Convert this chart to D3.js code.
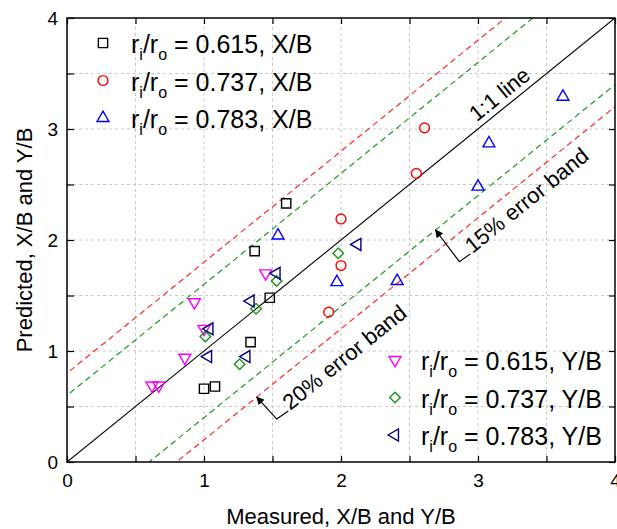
<!DOCTYPE html>
<html>
<head>
<meta charset="utf-8">
<style>
  body { margin:0; background:#fff; }
  svg text { font-family: "Liberation Sans", Arial, sans-serif; fill:#000; }
  .grid line { stroke:#c8c8c8; stroke-width:1; stroke-dasharray:3,3; }
</style>
</head>
<body>
<svg id="chart" width="617" height="529"></svg>
<script src="https://d3js.org/d3.v7.min.js"></script>
<script>
// values (measured, predicted)
var sq615X_meas = [1.60, 1.37, 1.48, 1.34, 1.00, 1.08];
var sq615X_pred = [2.33, 1.90, 1.48, 1.08, 0.66, 0.68];

var ci737X_meas = [2.00, 2.61, 2.55, 2.00, 1.91];
var ci737X_pred = [2.19, 3.01, 2.60, 1.77, 1.35];

var tr783X_meas = [1.54, 3.62, 3.08, 3.00, 1.97, 2.41];
var tr783X_pred = [2.04, 3.29, 2.87, 2.48, 1.62, 1.63];

var dn615Y_meas = [1.45, 0.93, 1.00, 0.86, 0.62, 0.67];
var dn615Y_pred = [1.70, 1.44, 1.20, 0.94, 0.69, 0.69];

var di737Y_meas = [1.98, 1.53, 1.38, 1.01, 1.26];
var di737Y_pred = [1.88, 1.63, 1.38, 1.13, 0.88];

var lt783Y_meas = [2.12, 1.53, 1.34, 1.04, 1.03, 1.31];
var lt783Y_pred = [1.96, 1.70, 1.45, 1.20, 0.95, 0.95];

var ratios = ["0.615", "0.737", "0.783", "0.615", "0.737", "0.783"];
var dirs   = ["X/B", "X/B", "X/B", "Y/B", "Y/B", "Y/B"];

var allTicks = [0, 0.5, 1, 1.5, 2, 2.5, 3, 3.5, 4];

// error bands: offsets of parallel lines (15% and 20% of the 4.0 range)
var band15 = 0.6, band20 = 0.8;

var width = 617, height = 529;
var x = d3.scaleLinear().domain([0, 4]).range([67, 615]);
var y = d3.scaleLinear().domain([0, 4]).range([462, 18]);

var svg = d3.select('#chart');

var series = [
  {meas: sq615X_meas, pred: sq615X_pred, color: "#000000", sym: d3.symbolSquare, size: 86, rot: 0},
  {meas: ci737X_meas, pred: ci737X_pred, color: "#ff0000", sym: d3.symbolCircle, size: 76, rot: 0},
  {meas: tr783X_meas, pred: tr783X_pred, color: "#0000ff", sym: d3.symbolTriangle, size: 62, rot: 0},
  {meas: dn615Y_meas, pred: dn615Y_pred, color: "#ff00ff", sym: d3.symbolTriangle, size: 62, rot: 180},
  {meas: di737Y_meas, pred: di737Y_pred, color: "#1a961a", sym: d3.symbolSquare, size: 56, rot: 45},
  {meas: lt783Y_meas, pred: lt783Y_pred, color: "#000080", sym: d3.symbolTriangle, size: 62, rot: -90}
];

// grid
var grid = svg.append('g').attr('class', 'grid');
grid.selectAll('.gx').data(allTicks.slice(1, -1)).enter().append('line')
  .attr('x1', function(d){ return x(d); }).attr('x2', function(d){ return x(d); })
  .attr('y1', y(0)).attr('y2', y(4));
grid.selectAll('.gy').data(allTicks.slice(1, -1)).enter().append('line')
  .attr('y1', function(d){ return y(d); }).attr('y2', function(d){ return y(d); })
  .attr('x1', x(0)).attr('x2', x(4));

// clip for lines
svg.append('clipPath').attr('id', 'plotclip').append('rect')
  .attr('x', x(0)).attr('y', y(4)).attr('width', x(4) - x(0)).attr('height', y(0) - y(4));

var lines = svg.append('g').attr('clip-path', 'url(#plotclip)');
var bandLines = [
  {off: band20, color: "#ff2a2a"}, {off: -band20, color: "#ff2a2a"},
  {off: band15, color: "#1f9a1f"}, {off: -band15, color: "#1f9a1f"}
];
lines.selectAll('.band').data(bandLines).enter().append('line')
  .attr('x1', x(-1)).attr('x2', x(5))
  .attr('y1', function(d){ return y(-1 + d.off); })
  .attr('y2', function(d){ return y(5 + d.off); })
  .attr('stroke', function(d){ return d.color; })
  .attr('stroke-width', 1.2)
  .attr('stroke-dasharray', '6,4');
lines.append('line')
  .attr('x1', x(0)).attr('y1', y(0)).attr('x2', x(4)).attr('y2', y(4))
  .attr('stroke', '#000').attr('stroke-width', 1.1);

// axes
function styleAxis(g) {
  g.select('.domain').remove();
  g.selectAll('.tick line').attr('stroke', '#000').attr('stroke-width', 1.2);
  g.selectAll('text').attr('font-size', 19).attr('font-family', '"Liberation Sans", Arial, sans-serif');
}
var fmt = function(d){ return d % 1 === 0 ? d3.format('d')(d) : ''; };

svg.append('g').attr('transform', 'translate(0,' + y(0) + ')')
  .call(d3.axisBottom(x).tickValues(allTicks).tickSize(-6).tickPadding(12).tickFormat(fmt))
  .call(styleAxis);
svg.append('g').attr('transform', 'translate(' + x(0) + ',0)')
  .call(d3.axisLeft(y).tickValues(allTicks).tickSize(-7).tickPadding(9).tickFormat(fmt))
  .call(styleAxis);
svg.append('g').attr('transform', 'translate(0,' + y(4) + ')')
  .call(d3.axisTop(x).tickValues(allTicks).tickSize(-6).tickFormat(''))
  .call(styleAxis);
svg.append('g').attr('transform', 'translate(' + x(4) + ',0)')
  .call(d3.axisRight(y).tickValues(allTicks).tickSize(-6).tickFormat(''))
  .call(styleAxis);

svg.append('rect')
  .attr('x', x(0)).attr('y', y(4)).attr('width', x(4) - x(0)).attr('height', y(0) - y(4))
  .attr('fill', 'none').attr('stroke', '#000').attr('stroke-width', 1.5);

// data points
series.forEach(function(s) {
  var pts = s.meas.map(function(m, i){ return [m, s.pred[i]]; });
  svg.append('g').selectAll('path').data(pts).enter().append('path')
    .attr('d', d3.symbol().type(s.sym).size(s.size))
    .attr('transform', function(d){ return 'translate(' + x(d[0]) + ',' + y(d[1]) + ') rotate(' + s.rot + ')'; })
    .attr('fill', 'none')
    .attr('stroke', s.color)
    .attr('stroke-width', 1.4);
});

// legends
function legendEntry(s, i, mx, tx, base) {
  svg.append('path')
    .attr('d', d3.symbol().type(s.sym).size(s.size))
    .attr('transform', 'translate(' + mx + ',' + (base - 10) + ') rotate(' + s.rot + ')')
    .attr('fill', 'none').attr('stroke', s.color).attr('stroke-width', 1.4);
  var t = svg.append('text').attr('x', tx).attr('y', base).attr('font-size', 25);
  t.append('tspan').text('r');
  t.append('tspan').attr('font-size', 16).attr('dy', 7).text('i');
  t.append('tspan').attr('dy', -7).text('/r');
  t.append('tspan').attr('font-size', 16).attr('dy', 7).text('o');
  t.append('tspan').attr('dy', -7).text(' = ' + ratios[i] + ', ' + dirs[i]);
}
[0, 1, 2].forEach(function(i){ legendEntry(series[i], i, 103, 131, 53 + i * 37.5); });
[3, 4, 5].forEach(function(i){ legendEntry(series[i], i, 395, 421, 370 + (i - 3) * 37.5); });

// annotations
var ang = -Math.atan((y(0) - y(1)) / (x(1) - x(0))) * 180 / Math.PI;
function rotText(str, dx, dy) {
  svg.append('text')
    .attr('transform', 'translate(' + x(dx) + ',' + y(dy) + ') rotate(' + ang + ')')
    .attr('font-size', 22)
    .text(str);
}
rotText('1:1 line', 2.99, 3.06);
rotText('15% error band', 2.96, 1.875);
rotText('20% error band', 1.63, 0.46);

svg.append('defs').append('marker')
  .attr('id', 'arrow').attr('viewBox', '0 0 10 10')
  .attr('refX', 9).attr('refY', 5)
  .attr('markerWidth', 10).attr('markerHeight', 8)
  .attr('markerUnits', 'userSpaceOnUse')
  .attr('orient', 'auto-start-reverse')
  .append('path').attr('d', 'M10,5 L0,0 L0,10 Z').attr('fill', '#000');

var leaders = [
  [[2.69, 2.09], [2.864, 1.805], [2.945, 1.875]],
  [[1.385, 0.585], [1.531, 0.387], [1.615, 0.46]]
];
svg.selectAll('.leader').data(leaders).enter().append('path')
  .attr('d', function(d){ return d3.line().x(function(p){ return x(p[0]); }).y(function(p){ return y(p[1]); })(d); })
  .attr('fill', 'none').attr('stroke', '#000').attr('stroke-width', 1.2)
  .attr('marker-start', 'url(#arrow)');

// axis titles
svg.append('text')
  .attr('x', (x(0) + x(4)) / 2).attr('y', 524)
  .attr('text-anchor', 'middle').attr('font-size', 22)
  .text('Measured, X/B and Y/B');
svg.append('text')
  .attr('transform', 'translate(32,' + ((y(0) + y(4)) / 2) + ') rotate(-90)')
  .attr('text-anchor', 'middle').attr('font-size', 22)
  .text('Predicted, X/B and Y/B');
</script>
</body>
</html>
